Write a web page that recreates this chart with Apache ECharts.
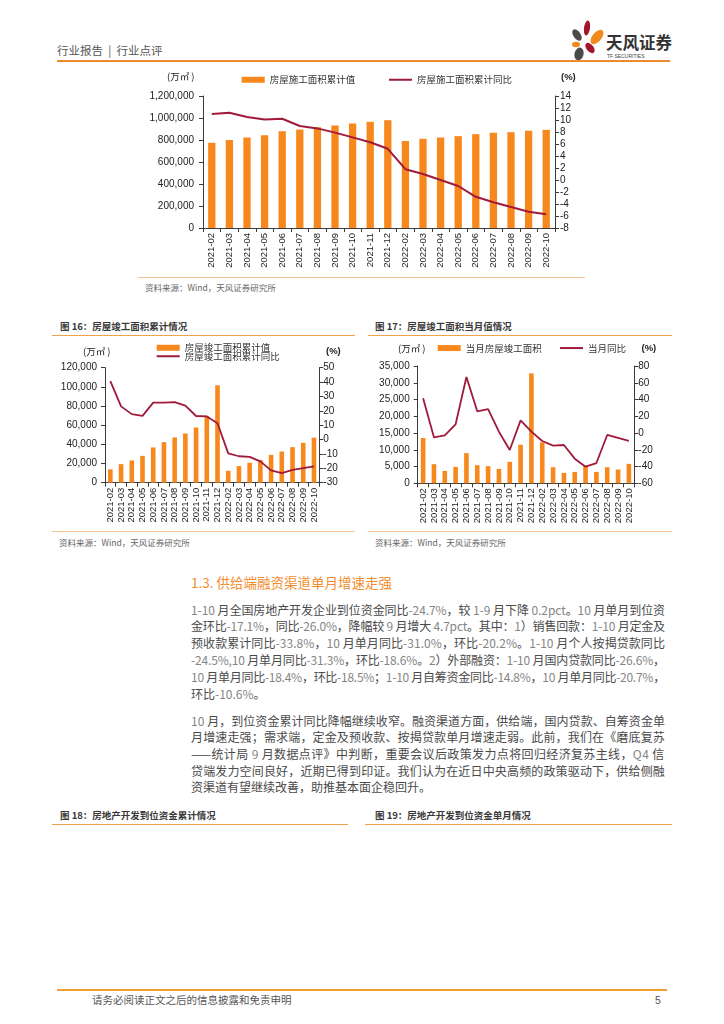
<!DOCTYPE html>
<html>
<head>
<meta charset="utf-8">
<script src="https://cdn.jsdelivr.net/npm/echarts@6/dist/echarts.min.js"></script>
<style>
  html,body{margin:0;padding:0;background:#fff;}
  body{width:724px;height:1024px;position:relative;overflow:hidden;font-family:"Noto Sans CJK SC","Noto Sans",sans-serif;}
  .abs{position:absolute;white-space:nowrap;}
  .hline{position:absolute;height:0;}
  .cap{position:absolute;font-size:9.5px;font-weight:bold;color:#3a3a3a;line-height:12px;white-space:nowrap;}
  .src{position:absolute;font-size:8.5px;color:#666;line-height:11px;white-space:nowrap;}
  .ln{position:absolute;left:191px;font-size:12px;line-height:16.8px;color:#4a4a4a;white-space:nowrap;}
  .ln .n{color:#858585;}
  .chart{position:absolute;}
</style>
</head>
<body>

<!-- header -->
<div class="abs" style="left:57px;top:42px;font-size:11.5px;color:#555;line-height:16px;">行业报告&nbsp; | &nbsp;行业点评</div>
<svg class="abs" style="left:560px;top:12px;" width="125" height="50" viewBox="560 12 125 50">
  <ellipse cx="577" cy="35" rx="3.6" ry="6.5" fill="#4a4a4a" transform="rotate(-35 577 35)"/>
  <ellipse cx="587" cy="28" rx="3" ry="7.5" fill="#a3142f" transform="rotate(8 587 28)"/>
  <ellipse cx="597" cy="37" rx="4.5" ry="8.5" fill="#f08a1c" transform="rotate(40 597 37)"/>
  <ellipse cx="576" cy="44.5" rx="4" ry="2.8" fill="#f08a1c"/>
  <ellipse cx="590" cy="48" rx="3.5" ry="6" fill="#a3142f" transform="rotate(-40 590 48)"/>
  <ellipse cx="579" cy="54" rx="4.5" ry="6.5" fill="#4a4a4a" transform="rotate(15 579 54)"/>
  <text x="606" y="49" font-size="16.5" font-weight="bold" fill="#333" font-family="Noto Sans CJK SC">天风证券</text>
  <text x="607" y="57.5" font-size="5" fill="#444" font-family="Liberation Sans">TF SECURITIES</text>
</svg>
<div class="hline" style="left:57px;top:60px;width:613px;border-top:2px solid #ef8a2c;"></div>

<!-- top chart -->
<div id="chartTop" class="chart" style="left:130px;top:65px;width:470px;height:210px;"></div>
<div class="hline" style="left:138px;top:277px;width:447px;border-top:1.5px solid #f7c594;"></div>
<div class="src" style="left:145px;top:282px;">资料来源：Wind，天风证券研究所</div>

<!-- captions 16/17 -->
<div class="cap" style="left:60px;top:320px;">图 16：房屋竣工面积累计情况</div>
<div class="hline" style="left:52px;top:335px;width:303px;border-top:1.5px solid #f1a04e;"></div>
<div class="cap" style="left:375px;top:320px;">图 17：房屋竣工面积当月值情况</div>
<div class="hline" style="left:368px;top:335px;width:304px;border-top:1.5px solid #f1a04e;"></div>

<div id="chart16" class="chart" style="left:50px;top:340px;width:310px;height:190px;"></div>
<div id="chart17" class="chart" style="left:365px;top:340px;width:310px;height:190px;"></div>

<div class="hline" style="left:52px;top:531px;width:303px;border-top:1.5px solid #f7c594;"></div>
<div class="hline" style="left:368px;top:531px;width:304px;border-top:1.5px solid #f7c594;"></div>
<div class="src" style="left:59px;top:537px;">资料来源：Wind，天风证券研究所</div>
<div class="src" style="left:375px;top:537px;">资料来源：Wind，天风证券研究所</div>

<!-- section -->
<div class="abs" style="left:191px;top:573px;font-size:13.5px;line-height:18px;color:#f28d2d;">1.3. 供给端融资渠道单月增速走强</div>

<div class="ln j" style="top:601.6px;">1-10 月全国房地产开发企业到位资金同比-24.7%，较 1-9 月下降 0.2pct。10 月单月到位资</div>
<div class="ln j" style="top:618.4px;">金环比-17.1%，同比-26.0%，降幅较 9 月增大 4.7pct。其中：1）销售回款：1-10 月定金及</div>
<div class="ln j" style="top:635.2px;">预收款累计同比-33.8%，10 月单月同比-31.0%，环比-20.2%。1-10 月个人按揭贷款同比</div>
<div class="ln j" style="top:652.0px;">-24.5%,10 月单月同比-31.3%，环比-18.6%。2）外部融资：1-10 月国内贷款同比-26.6%，</div>
<div class="ln j" style="top:668.8px;">10 月单月同比-18.4%，环比-18.5%；1-10 月自筹资金同比-14.8%，10 月单月同比-20.7%，</div>
<div class="ln" style="top:685.6px;">环比-10.6%。</div>

<div class="ln j" style="top:712.6px;">10 月，到位资金累计同比降幅继续收窄。融资渠道方面，供给端，国内贷款、自筹资金单</div>
<div class="ln j" style="top:729.3px;">月增速走强；需求端，定金及预收款、按揭贷款单月增速走弱。此前，我们在《磨底复苏</div>
<div class="ln j" style="top:746.0px;">——统计局 9 月数据点评》中判断，重要会议后政策发力点将回归经济复苏主线，Q4 信</div>
<div class="ln j" style="top:762.7px;">贷端发力空间良好，近期已得到印证。我们认为在近日中央高频的政策驱动下，供给侧融</div>
<div class="ln" style="top:779.4px;">资渠道有望继续改善，助推基本面企稳回升。</div>

<div class="cap" style="left:60px;top:809px;">图 18：房地产开发到位资金累计情况</div>
<div class="hline" style="left:52px;top:824px;width:296px;border-top:1.5px solid #f1a04e;"></div>
<div class="cap" style="left:375px;top:809px;">图 19：房地产开发到位资金单月情况</div>
<div class="hline" style="left:365px;top:824px;width:307px;border-top:1.5px solid #f1a04e;"></div>

<!-- footer -->
<div class="hline" style="left:57px;top:989px;width:610px;border-top:2px solid #f0a032;"></div>
<div class="abs" style="left:92px;top:993px;font-size:10.5px;color:#555;line-height:14px;">请务必阅读正文之后的信息披露和免责申明</div>
<div class="abs" style="left:655px;top:993px;font-size:10.5px;color:#555;line-height:14px;font-family:'Liberation Sans';">5</div>

<script>
// ---------------- data ----------------
const categories = ['2021-02','2021-03','2021-04','2021-05','2021-06','2021-07','2021-08','2021-09','2021-10','2021-11','2021-12',
                    '2022-02','2022-03','2022-04','2022-05','2022-06','2022-07','2022-08','2022-09','2022-10'];

// 房屋施工面积 (top chart)
const topBarValues  = [775000, 799000, 823000, 844000, 880000, 895000, 917000, 932000, 950000, 965000, 980000,
                       790000, 811000, 823000, 835000, 853000, 865000, 871000, 883000, 892000];
const topLineValues = [11.0, 11.2, 10.5, 10.1, 10.2, 9.0, 8.6, 7.9, 7.1, 6.3, 5.2,
                       1.8, 1.0, 0.0, -1.0, -2.8, -3.7, -4.5, -5.3, -5.7];

// 图16 房屋竣工面积累计
const c16BarValues  = [13900, 19400, 23200, 28000, 36800, 42300, 47200, 51400, 57600, 69800, 101600,
                       12400, 17300, 20800, 23600, 29000, 32600, 37100, 41600, 47000];
const c16LineValues = [40.6, 23.1, 17.7, 16.5, 25.7, 25.7, 26.0, 23.6, 16.4, 16.1, 11.4,
                       -9.6, -11.6, -12.0, -15.2, -21.4, -23.3, -21.1, -19.9, -18.7];

// 图17 房屋竣工面积当月值
const c17BarValues  = [13500, 5700, 3700, 4900, 9000, 5400, 5100, 4300, 6400, 11500, 32800,
                       12200, 4800, 3100, 3400, 5300, 3400, 4800, 4100, 5800];
const c17LineValues = [41.4, -5.1, -2.7, 10.4, 66.9, 25.9, 28.6, 1.6, -20.2, 15.1, 1.6,
                       -9.5, -15.1, -14.3, -30.6, -40.2, -35.8, -2.3, -5.9, -9.5];

const topLeftAxis  = {min: 0, max: 1200000, interval: 200000};
const topRightAxis = {min: -8, max: 14, interval: 2};
const c16LeftAxis  = {min: 0, max: 120000, interval: 20000};
const c16RightAxis = {min: -30, max: 50, interval: 10};
const c17LeftAxis  = {min: 0, max: 35000, interval: 5000};
const c17RightAxis = {min: -60, max: 80, interval: 20};

// ---------------- styles ----------------
const BAR_COLOR = '#F6881E';
const LINE_COLOR = '#A11A3B';
const AXIS_COLOR = '#3a3a3a';
const LABEL_COLOR = '#222';

function fmtThousands(v){ return Number(v).toLocaleString('en-US'); }

function build(el, c){
  const chart = echarts.init(document.getElementById(el), null, {renderer:'canvas'});
  const legendText = {fontSize: 9.5, color:'#333', fontFamily:'Noto Sans CJK SC'};
  const opt = {
    animation:false,
    textStyle:{fontFamily:'Liberation Sans, Arial, sans-serif'},
    grid:{left:c.grid[0], top:c.grid[1], width:c.grid[2], height:c.grid[3], containLabel:false},
    legend:[
      {data:[{name:c.barName, icon:'rect'}], left:c.leg1[0], top:c.leg1[1], orient:'horizontal',
       itemWidth:23, itemHeight:6, padding:0, selectedMode:false, textStyle:legendText},
      {data:[{name:c.lineName, icon:'rect'}], left:c.leg2[0], top:c.leg2[1], orient:'horizontal',
       itemWidth:23, itemHeight:2, padding:0, selectedMode:false, textStyle:legendText}
    ],
    graphic:[
      {type:'text', left:c.unitL[0], top:c.unitL[1], style:{text:'(万㎡ )', fontSize:9.5, fill:'#222', fontFamily:'Noto Sans CJK SC'}},
      {type:'text', left:c.unitR[0], top:c.unitR[1], style:{text:'(%)', fontSize:9.5, fill:'#222', fontWeight:'bold', fontFamily:'Liberation Sans'}}
    ],
    xAxis:{
      type:'category', data:categories,
      axisLine:{show:true, lineStyle:{color:AXIS_COLOR, width:1}},
      axisTick:{show:true, length:4, lineStyle:{color:AXIS_COLOR}},
      axisLabel:{rotate:90, interval:0, fontSize:9.5, color:LABEL_COLOR, margin:5, hideOverlap:false},
      splitLine:{show:false}
    },
    yAxis:[
      {type:'value', position:'left', min:c.left.min, max:c.left.max, interval:c.left.interval,
       axisLine:{show:true, lineStyle:{color:AXIS_COLOR, width:1}},
       axisTick:{show:true, length:4, lineStyle:{color:AXIS_COLOR}},
       axisLabel:{formatter:fmtThousands, fontSize:10, color:LABEL_COLOR, margin:c.lm},
       splitLine:{show:false}},
      {type:'value', position:'right', min:c.right.min, max:c.right.max, interval:c.right.interval,
       axisLine:{show:true, lineStyle:{color:AXIS_COLOR, width:1}},
       axisTick:{show:true, length:4, lineStyle:{color:AXIS_COLOR}},
       axisLabel:{fontSize:10, color:LABEL_COLOR, margin:c.rm},
       splitLine:{show:false}}
    ],
    series:[
      {name:c.barName, type:'bar', data:c.bars, barWidth:c.barWidth, itemStyle:{color:BAR_COLOR}, z:2},
      {name:c.lineName, type:'line', yAxisIndex:1, data:c.line, symbol:'none', showSymbol:false,
       lineStyle:{color:LINE_COLOR, width:c.lw}, itemStyle:{color:LINE_COLOR}, z:3}
    ]
  };
  chart.setOption(opt);
}

build('chartTop', {
  grid:[73, 31, 352, 132],
  barName:'房屋施工面积累计值', lineName:'房屋施工面积累计同比',
  leg1:[111.7, 10], leg2:[259, 10],
  unitL:[37, 7], unitR:[431, 7],
  left:topLeftAxis, right:topRightAxis, lm:9, rm:5,
  bars:topBarValues, line:topLineValues, barWidth:7.3, lw:2
});
build('chart16', {
  grid:[55, 27.7, 214.3, 115],
  barName:'房屋竣工面积累计值', lineName:'房屋竣工面积累计同比',
  leg1:[106.7, 3], leg2:[106.7, 11.5],
  unitL:[33, 6.5], unitR:[276, 6.5],
  left:c16LeftAxis, right:c16RightAxis, lm:8, rm:4,
  bars:c16BarValues, line:c16LineValues, barWidth:4.6, lw:1.8
});
build('chart17', {
  grid:[52.7, 26, 216.6, 117.3],
  barName:'当月房屋竣工面积', lineName:'当月同比',
  leg1:[72.7, 3.3], leg2:[195, 3.3],
  unitL:[33, 3.5], unitR:[276.5, 3.5],
  left:c17LeftAxis, right:c17RightAxis, lm:8, rm:4,
  bars:c17BarValues, line:c17LineValues, barWidth:4.6, lw:1.8
});

// ---------------- body text: colour numbers, justify lines ----------------
document.querySelectorAll('.ln').forEach(function(el){
  el.innerHTML = el.textContent.replace(/([0-9A-Za-z.%\-,]+)/g, '<span class="n">$1</span>');
});
const TARGET_W = 474;
document.querySelectorAll('.ln.j').forEach(function(el){
  const w = el.getBoundingClientRect().width;
  const n = el.textContent.length;
  const ls = (TARGET_W - w) / n;
  el.style.letterSpacing = ls.toFixed(3) + 'px';
});
</script>
</body>
</html>
